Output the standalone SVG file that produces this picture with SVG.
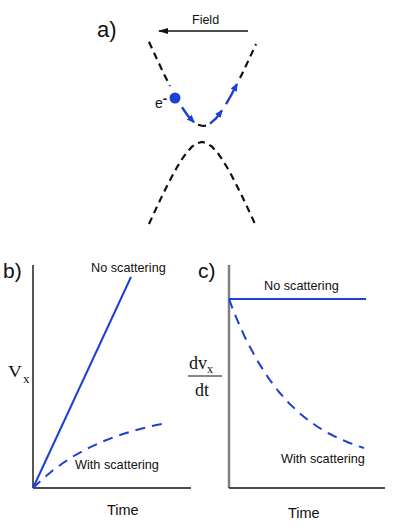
<svg xmlns="http://www.w3.org/2000/svg" width="407" height="531" viewBox="0 0 407 531">
<defs>
<style>
.lbl{font-family:"Liberation Sans",Arial,sans-serif;fill:#111}
.ser{font-family:"Liberation Serif","Times New Roman",serif;fill:#111}
.bd{fill:none;stroke:#111;stroke-width:2.2;stroke-dasharray:7 5}
.blue{fill:none;stroke:#1c3fd4;stroke-width:2;stroke-linejoin:round}
.bdash{fill:none;stroke:#1c3fd4;stroke-width:2;stroke-dasharray:10 7}
.barr{fill:none;stroke:#1c3fd4;stroke-width:2.4;marker-end:url(#bh)}
.axis{stroke:#111;stroke-width:1.4;fill:none}
</style>
<marker id="bh" markerUnits="userSpaceOnUse" markerWidth="10" markerHeight="8" refX="7" refY="3.5" orient="auto">
<path d="M0,0 L8,3.5 L0,7 z" fill="#1c3fd4"/>
</marker>
<marker id="kh" markerUnits="userSpaceOnUse" markerWidth="12" markerHeight="8" refX="9" refY="3" orient="auto">
<path d="M0,0 L10,3 L0,6 z" fill="#111"/>
</marker>
</defs>

<g id="panel-a">
<text class="lbl" x="97" y="37" font-size="22">a)</text>
<g id="field">
<line x1="248" y1="31" x2="159" y2="31" stroke="#111" stroke-width="1.5" marker-end="url(#kh)"/>
<text class="lbl" x="192" y="24" font-size="12.5">Field</text>
</g>
<g id="upper-band">
<polyline class="bd" points="149,41.8 153,50.6 158,61.4 163,71.9 168,82 170,86"/>
<path d="M198,124.8 L203,126 L206,125.6" fill="none" stroke="#111" stroke-width="2.2"/>
<polyline class="bd" points="240,78 243,71.9 248,61.4 253,50.6 256,44"/>
</g>
<g id="lower-band">
<polyline class="bd" points="149,224 152,217.4 157,206.6 162,196.1 167,186 172,176.3 177,167.3 182,159.1 187,152.1 192,146.7 197,143.2 202,142 207,143.2 212,146.7 217,152.1 222,159.1 227,167.3 232,176.3 237,186 242,196.1 247,206.6 252,217.4 255,224"/>
</g>
<g id="electron">
<circle cx="175" cy="98" r="5.5" fill="#1c3fd4"/>
<text class="lbl" x="155" y="108" font-size="14">e<tspan font-size="13" dy="-5" font-weight="bold">-</tspan></text>
<polyline class="barr" points="182,107.3 188,115.9 194,122.2"/>
<polyline class="barr" points="210,123.6 216,118.4 222,110.4"/>
<polyline class="barr" points="226,104.1 231,95.5 237,84"/>
</g>
</g>

<g id="panel-b">
<text class="lbl" x="3" y="278" font-size="21">b)</text>
<g id="axes-b">
<line class="axis" x1="33" y1="265" x2="33" y2="488"/>
<line class="axis" x1="33" y1="488" x2="191" y2="488"/>
</g>
<text class="ser" transform="translate(8,377) scale(1.2,1)" font-size="16">V</text>
<text class="ser" x="23" y="383" font-size="13">x</text>
<text class="lbl" x="107" y="515" font-size="14.5">Time</text>
<g id="curves-b">
<line class="blue" x1="33" y1="488" x2="131" y2="277"/>
<polyline class="bdash" points="33,488 43,478.6 53,470.3 63,463 73,456.5 83,450.8 93,445.8 103,441.4 113,437.4 123,434 133,430.9 143,428.2 153,425.8 163,423.8"/>
</g>
<text class="lbl" x="91" y="272" font-size="12.7">No scattering</text>
<text class="lbl" x="75" y="469" font-size="12.7">With scattering</text>
</g>

<g id="panel-c">
<text class="lbl" x="198" y="278" font-size="21">c)</text>
<g id="axes-c">
<line x1="229" y1="265" x2="229" y2="488" stroke="#808080" stroke-width="2.5"/>
<line class="axis" x1="229" y1="488" x2="385" y2="488" stroke-width="1.2"/>
</g>
<g id="dvdt">
<text class="ser" x="189" y="369" font-size="18">dv<tspan font-size="12" dy="4">x</tspan></text>
<line x1="188" y1="376" x2="222" y2="376" stroke="#111" stroke-width="1"/>
<text class="ser" x="195" y="396" font-size="18">dt</text>
</g>
<text class="lbl" x="288" y="518" font-size="14.5">Time</text>
<g id="curves-c">
<line class="blue" x1="229" y1="299" x2="366" y2="299"/>
<polyline class="bdash" points="229,299 234,312.3 239,324 244,335.2 249,345.3 259,363.4 269,378.9 279,392 289,403.2 299,412.7 309,420.8 319,427.7 329,433.5 339,438.5 349,442.7 359,446.4 364,448"/>
</g>
<text class="lbl" x="264" y="289.5" font-size="12.7">No scattering</text>
<text class="lbl" x="281" y="463" font-size="12.7">With scattering</text>
</g>
</svg>
